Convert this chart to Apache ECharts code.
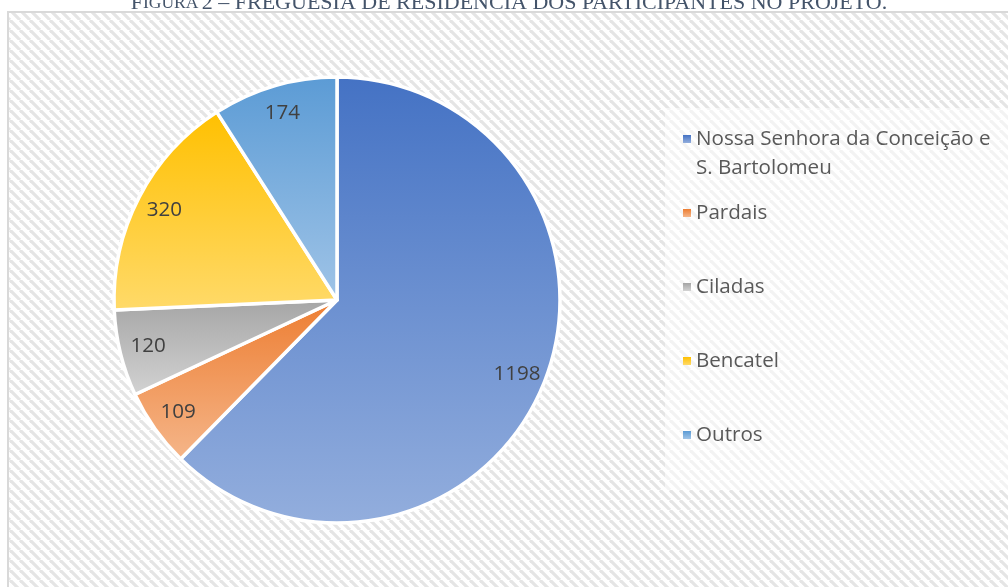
<!DOCTYPE html>
<html>
<head>
<meta charset="utf-8">
<script src="https://cdn.jsdelivr.net/npm/echarts@6/dist/echarts.min.js"></script>
<style>
html,body{margin:0;padding:0;background:#fff;}
#chart{width:1008px;height:587px;}
</style>
</head>
<body>
<div id="chart"></div>
<script>
// ---- data ----
const categories = ['Nossa Senhora da Conceição e S. Bartolomeu', 'Pardais', 'Ciladas', 'Bencatel', 'Outros'];
const values = [1198, 109, 120, 320, 174];
const legendLines = { 'Nossa Senhora da Conceição e S. Bartolomeu': 'Nossa Senhora da Conceição e\nS. Bartolomeu' };
const titleText = 'FIGURA 2 – FREGUESIA DE RESIDÊNCIA DOS PARTICIPANTES NO PROJETO.';

// ---- styles ----
const topColors = ['#4472C4', '#ED7D31', '#A5A5A5', '#FFC000', '#5B9BD5'];
const bottomColors = ['#93AEDD', '#F5B68A', '#D3D3D3', '#FFDA6A', '#A0C4E7'];

function makeHatch() {
  const c = document.createElement('canvas');
  c.width = 10; c.height = 10;
  const ctx = c.getContext('2d');
  ctx.fillStyle = '#ffffff';
  ctx.fillRect(0, 0, 10, 10);
  ctx.strokeStyle = '#e5e5e5';
  ctx.lineWidth = 3.2;
  for (let k = -20; k <= 20; k += 10) {
    ctx.beginPath(); ctx.moveTo(k, 0); ctx.lineTo(k + 10, 10); ctx.stroke();
  }
  return c;
}
const hatch = makeHatch();

const pieData = categories.map((name, i) => ({
  name: name,
  value: values[i],
  itemStyle: {
    color: {
      type: 'linear', x: 0, y: 0, x2: 0, y2: 1,
      colorStops: [{ offset: 0, color: topColors[i] }, { offset: 1, color: bottomColors[i] }]
    }
  }
}));
const labelData = categories.map((name, i) => ({ name: name, value: values[i] }));

// Title: small caps rendered with rich text
const titleRich = '{b|F}{s|IGURA} {b|' + titleText.slice(7) + '}';

const chart = echarts.init(document.getElementById('chart'), null, { renderer: 'canvas' });
chart.setOption({
  animation: false,
  backgroundColor: '#ffffff',
  graphic: [
    {
      type: 'rect', z: -10,
      shape: { x: 8, y: 12, width: 1100, height: 700 },
      style: { fill: { type: 'pattern', image: hatch, repeat: 'repeat' }, stroke: '#d9d9d9', lineWidth: 2 }
    },
    {
      type: 'rect', z: -5,
      shape: { x: 665, y: 108, width: 360, height: 382 },
      style: { fill: 'rgba(255,255,255,0.55)' }
    },
    {
      type: 'text', z: 5,
      x: 509, y: 3.6,
      style: {
        text: titleRich,
        align: 'center', verticalAlign: 'middle',
        fill: '#44546A',
        rich: {
          b: { fontFamily: 'Liberation Serif', fontSize: 22, fill: '#44546A' },
          s: { fontFamily: 'Liberation Serif', fontSize: 17.5, fill: '#44546A' }
        }
      }
    }
  ],
  legend: [
    {
      data: [categories[0]],
      orient: 'vertical',
      left: 683, top: 95.5,
      padding: 0,
      icon: 'rect', itemWidth: 8, itemHeight: 8,
      itemStyle: { borderWidth: 0 },
      formatter: function (n) { return '\n' + (legendLines[n] || n); },
      textStyle: { fontFamily: 'Open Sans', fontSize: 20.6, color: '#595959', lineHeight: 29 }
    },
    {
      data: categories.slice(1),
      orient: 'vertical',
      left: 683, top: 198.5,
      padding: 0,
      itemGap: 45,
      icon: 'rect', itemWidth: 8, itemHeight: 8,
      itemStyle: { borderWidth: 0 },
      textStyle: { fontFamily: 'Open Sans', fontSize: 20.6, color: '#595959', lineHeight: 29 }
    }
  ],
  series: [
    {
      type: 'pie',
      center: [337, 300],
      radius: 223,
      startAngle: 90,
      clockwise: true,
      label: { show: false },
      labelLine: { show: false },
      emphasis: { disabled: true },
      itemStyle: { borderColor: '#ffffff', borderWidth: 3.5 },
      data: pieData
    },
    {
      type: 'pie',
      center: [337, 300],
      radius: [160, 223],
      startAngle: 90,
      clockwise: true,
      silent: true,
      z: 3,
      itemStyle: { color: 'rgba(0,0,0,0)', borderWidth: 0 },
      label: {
        show: true, position: 'inside',
        formatter: '{c}',
        fontFamily: 'Open Sans', fontSize: 20.6, color: '#404040'
      },
      labelLine: { show: false },
      emphasis: { disabled: true },
      data: labelData
    }
  ]
});
</script>
</body>
</html>
